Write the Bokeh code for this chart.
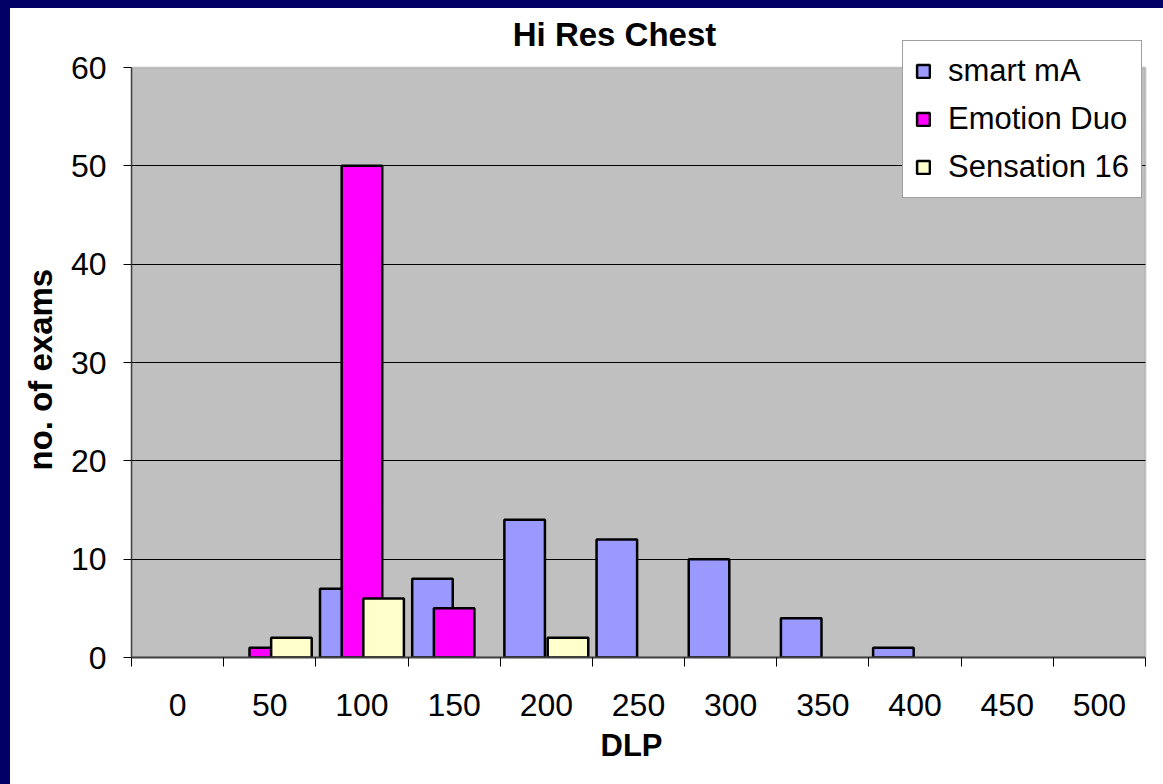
import numpy as np
from bokeh.plotting import figure
from bokeh.layouts import column, row
from bokeh.models import (ColumnDataSource, FixedTicker, Legend, LegendItem, Range1d,
                          BoxAnnotation, Label, Title, Spacer)
from bokeh.embed import file_html
from bokeh.resources import INLINE

# ---- data ----
categories = ["0", "50", "100", "150", "200", "250", "300", "350", "400", "450", "500"]
smart_ma = [0, 0, 7, 8, 14, 12, 10, 4, 1, 0, 0]
emotion_duo = [0, 1, 50, 5, 0, 0, 0, 0, 0, 0, 0]
sensation_16 = [0, 2, 6, 0, 2, 0, 0, 0, 0, 0, 0]
series_names = ["smart mA", "Emotion Duo", "Sensation 16"]
series_colors = ["#9999FF", "#FF00FF", "#FFFFCC"]
y_ticks = [0, 10, 20, 30, 40, 50, 60]
title_text = "Hi Res Chest"
x_title = "DLP"
y_title = "no. of exams"

FONT = "Liberation Sans"
NAVY = "#000066"

n = len(categories)
idx = np.arange(n)
y_max = y_ticks[-1]

# frame is larger than the grey plot area so the legend and title can sit over it
PLOT_W, PLOT_H = 1015.0, 590.0      # grey area size in px
FRAME_W, FRAME_H = 1023.0, 645.0    # frame size in px
x_start = -0.5
x_end = x_start + n * FRAME_W / PLOT_W
y_end = y_max * FRAME_H / PLOT_H

p = figure(width=1153, height=776, output_backend="svg", toolbar_location=None,
           x_range=Range1d(x_start, x_end), y_range=Range1d(0, y_end),
           min_border_left=120, min_border_right=10, min_border_top=4, min_border_bottom=127,
           background_fill_color="white", border_fill_color="white")
p.outline_line_color = None

plot_area = BoxAnnotation(left=x_start, right=x_start + n, bottom=0, top=y_max,
                          fill_color="#C0C0C0", fill_alpha=1,
                          line_color="#808080", line_width=2, level="image")
p.add_layout(plot_area)

bar_w = 0.44
offsets = [-0.235, 0.0, 0.235]
renderers = []
for vals, off, col in zip([smart_ma, emotion_duo, sensation_16], offsets, series_colors):
    v = np.array(vals, dtype=float)
    m = v > 0
    src = ColumnDataSource(dict(x=idx[m] + off, top=v[m]))
    r = p.vbar(x="x", top="top", bottom=0, width=bar_w, source=src,
               fill_color=col, line_color="black", line_width=2.5)
    renderers.append(r)

# chart title as a label over the frame
title = Label(x=(n - 1) / 2, y=y_end, text=title_text, x_offset=-24, y_offset=-3,
              text_align="center", text_baseline="top",
              text_font=FONT, text_font_size="33px", text_font_style="bold", text_color="black")
p.add_layout(title)

# grid
p.xgrid.visible = False
p.ygrid.grid_line_color = "black"
p.ygrid.grid_line_width = 1
p.ygrid.ticker = FixedTicker(ticks=y_ticks[:-1])
p.ygrid.cross_bounds = (x_start, x_start + n)

# y axis
p.yaxis.bounds = (0, y_max)
p.yaxis.ticker = FixedTicker(ticks=y_ticks)
p.yaxis.major_tick_out = 8
p.yaxis.major_tick_in = 0
p.yaxis.minor_tick_line_color = None
p.yaxis.major_tick_line_color = "black"
p.yaxis.axis_line_color = "#404040"
p.yaxis.axis_line_width = 1.5
p.yaxis.major_label_text_font = FONT
p.yaxis.major_label_text_font_size = "32px"
p.yaxis.major_label_text_color = "black"
p.yaxis.major_label_standoff = 17

# x axis
p.xaxis.bounds = (x_start, x_start + n)
p.xaxis.ticker = FixedTicker(ticks=list(idx), minor_ticks=list(np.arange(n + 1) - 0.5))
p.xaxis.major_label_overrides = {int(i): c for i, c in zip(idx, categories)}
p.xaxis.major_tick_line_color = None
p.xaxis.major_tick_out = 0
p.xaxis.major_tick_in = 0
p.xaxis.minor_tick_out = 9
p.xaxis.minor_tick_in = 0
p.xaxis.minor_tick_line_color = "black"
p.xaxis.axis_line_color = "#404040"
p.xaxis.axis_line_width = 2
p.xaxis.major_label_text_font = FONT
p.xaxis.major_label_text_font_size = "32px"
p.xaxis.major_label_text_color = "black"
p.xaxis.major_label_standoff = 27

# axis titles as side titles (so they can be placed along the grey area)
yt = Title(text=y_title, align="left", offset=187, standoff=18,
           text_font=FONT, text_font_size="33px", text_font_style="bold", text_color="black")
p.add_layout(yt, "left")
xt = Title(text=x_title, align="left", offset=469, standoff=14,
           text_font=FONT, text_font_size="31px", text_font_style="bold", text_color="black")
p.add_layout(xt, "below")

legend = Legend(items=[LegendItem(label=s, renderers=[r]) for s, r in zip(series_names, renderers)],
                location=(771, 459))
legend.label_text_font = FONT
legend.label_text_font_size = "31px"
legend.label_text_color = "black"
legend.glyph_width = 16
legend.glyph_height = 16
legend.label_standoff = 17
legend.label_height = 35
legend.spacing = 12
legend.padding = 12
legend.margin = 0
legend.border_line_color = "#404040"
legend.border_line_width = 1
legend.background_fill_color = "white"
legend.background_fill_alpha = 1
p.add_layout(legend)

# dark slide background strips (top and left) around the white chart area
top_strip = Spacer(width=1163, height=8, styles={"background-color": NAVY})
left_strip = Spacer(width=10, height=776, styles={"background-color": NAVY})
page = column(top_strip, row(left_strip, p))

open("out.html", "w").write(file_html(page, INLINE))
